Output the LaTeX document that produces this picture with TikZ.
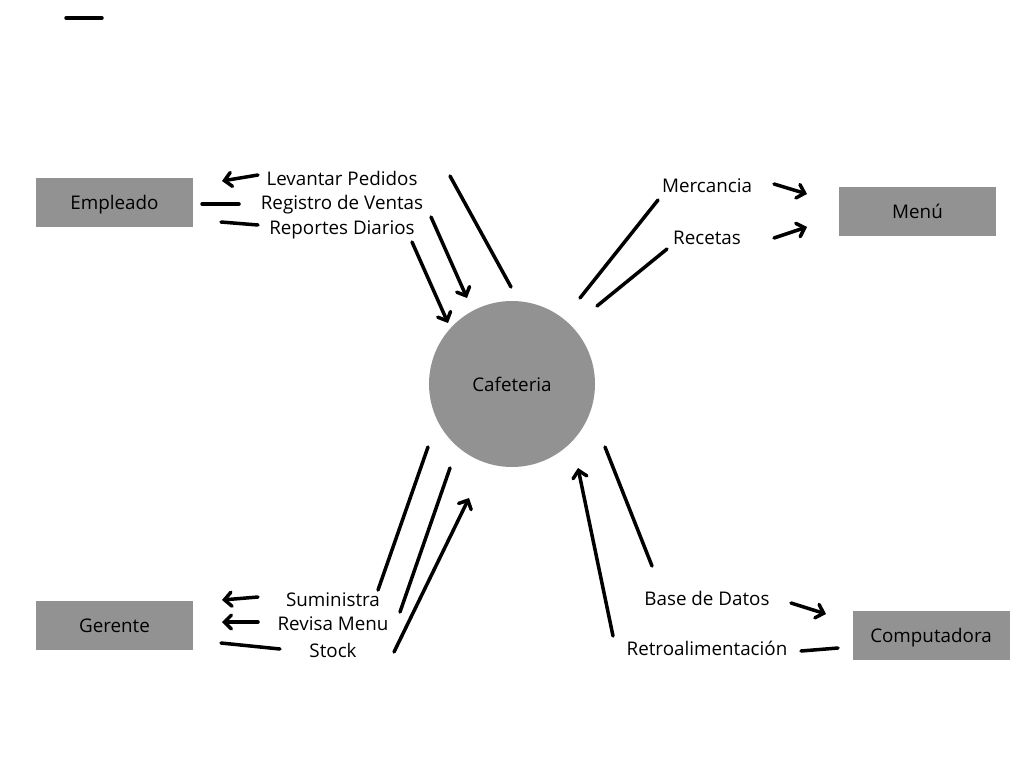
\documentclass[tikz,border=0pt]{standalone}
\usepackage{fontspec}
\setmainfont{Open Sans}
\usetikzlibrary{arrows.meta, positioning}
\definecolor{boxgray}{HTML}{929292}

\begin{document}
\begin{tikzpicture}[
            x=1pt, y=-1pt,
            every node/.style={font=\fontsize{18.8}{22}\selectfont, inner sep=0pt, text height=14pt, text depth=0pt},
            entity/.style={fill=boxgray, minimum width=157pt, minimum height=49pt},
            process/.style={circle, fill=boxgray, minimum size=166pt},
            flow/.style={line width=3.5pt, line cap=round},
            arrowflow/.style={flow, -{Straight Barb[length=7pt, width=14pt, line cap=round]}}
        ]
            \useasboundingbox (0,0) rectangle (1024,768);

            % entities and process
            \node[process] (cafe) at (512,384) {Cafeteria};
            \node[entity] (empleado) at (114.5,202.5) {Empleado};
            \node[entity] (menu) at (917.5,211) {Menú};
            \node[entity] (gerente) at (114.5,625.5) {Gerente};
            \node[entity] (compu) at (931,635) {Computadora};

            % flow labels
            \node (levantar) at (342,178) {Levantar Pedidos};
            \node (registro) at (342,202) {Registro de Ventas};
            \node (reportes) at (342,227) {Reportes Diarios};
            \node (mercancia) at (707,185) {Mercancia};
            \node (recetas) at (707,237) {Recetas};
            \node (suministra) at (333,599) {Suministra};
            \node (revisa) at (333,623) {Revisa Menu};
            \node (stock) at (333,650) {Stock};
            \node (basedatos) at (707,598) {Base de Datos};
            \node (retro) at (707,648) {Retroalimentación};

            % loose line ends
            \coordinate (dashA) at (66,18);       \coordinate (dashB) at (102,18);
            \coordinate (levA) at (258,175);      \coordinate (levB) at (222,181);
            \coordinate (regA) at (202,204);      \coordinate (regB) at (239,204);
            \coordinate (repA) at (221,222);      \coordinate (repB) at (258,225);
            \coordinate (levC) at (450,176);      \coordinate (levD) at (511,287);
            \coordinate (regC) at (431,217);      \coordinate (regD) at (467,298);
            \coordinate (repC) at (412,242);      \coordinate (repD) at (448,323);
            \coordinate (merA) at (658,200);      \coordinate (merB) at (580,298);
            \coordinate (recA) at (667,249);      \coordinate (recB) at (597,306);
            \coordinate (merC) at (774,184);      \coordinate (merD) at (807,194);
            \coordinate (recC) at (774,238);      \coordinate (recD) at (807,227);
            \coordinate (sumA) at (428,447);      \coordinate (sumB) at (378,590);
            \coordinate (revA) at (450,468);      \coordinate (revB) at (400,612);
            \coordinate (stoA) at (394,652);      \coordinate (stoB) at (469,498);
            \coordinate (sumC) at (258,597);      \coordinate (sumD) at (222,600);
            \coordinate (revC) at (258,622);      \coordinate (revD) at (222,622);
            \coordinate (stoC) at (221,643);      \coordinate (stoD) at (280,649);
            \coordinate (basA) at (605,447);      \coordinate (basB) at (652,566);
            \coordinate (retA) at (613,636);      \coordinate (retB) at (578,468);
            \coordinate (basC) at (791,603);      \coordinate (basD) at (826,614);
            \coordinate (retC) at (801,651);      \coordinate (retD) at (838,648);

            \draw [flow] (dashA) -- (dashB);
            \draw [arrowflow] (levA) -- (levB);
            \draw [flow] (regA) -- (regB);
            \draw [flow] (repA) -- (repB);
            \draw [flow] (levC) -- (levD);
            \draw [arrowflow] (regC) -- (regD);
            \draw [arrowflow] (repC) -- (repD);
            \draw [flow] (merA) -- (merB);
            \draw [flow] (recA) -- (recB);
            \draw [arrowflow] (merC) -- (merD);
            \draw [arrowflow] (recC) -- (recD);
            \draw [flow] (sumA) -- (sumB);
            \draw [flow] (revA) -- (revB);
            \draw [arrowflow] (stoA) -- (stoB);
            \draw [arrowflow] (sumC) -- (sumD);
            \draw [arrowflow] (revC) -- (revD);
            \draw [flow] (stoC) -- (stoD);
            \draw [flow] (basA) -- (basB);
            \draw [arrowflow] (retA) -- (retB);
            \draw [arrowflow] (basC) -- (basD);
            \draw [flow] (retC) -- (retD);
        \end{tikzpicture}
\end{document}
